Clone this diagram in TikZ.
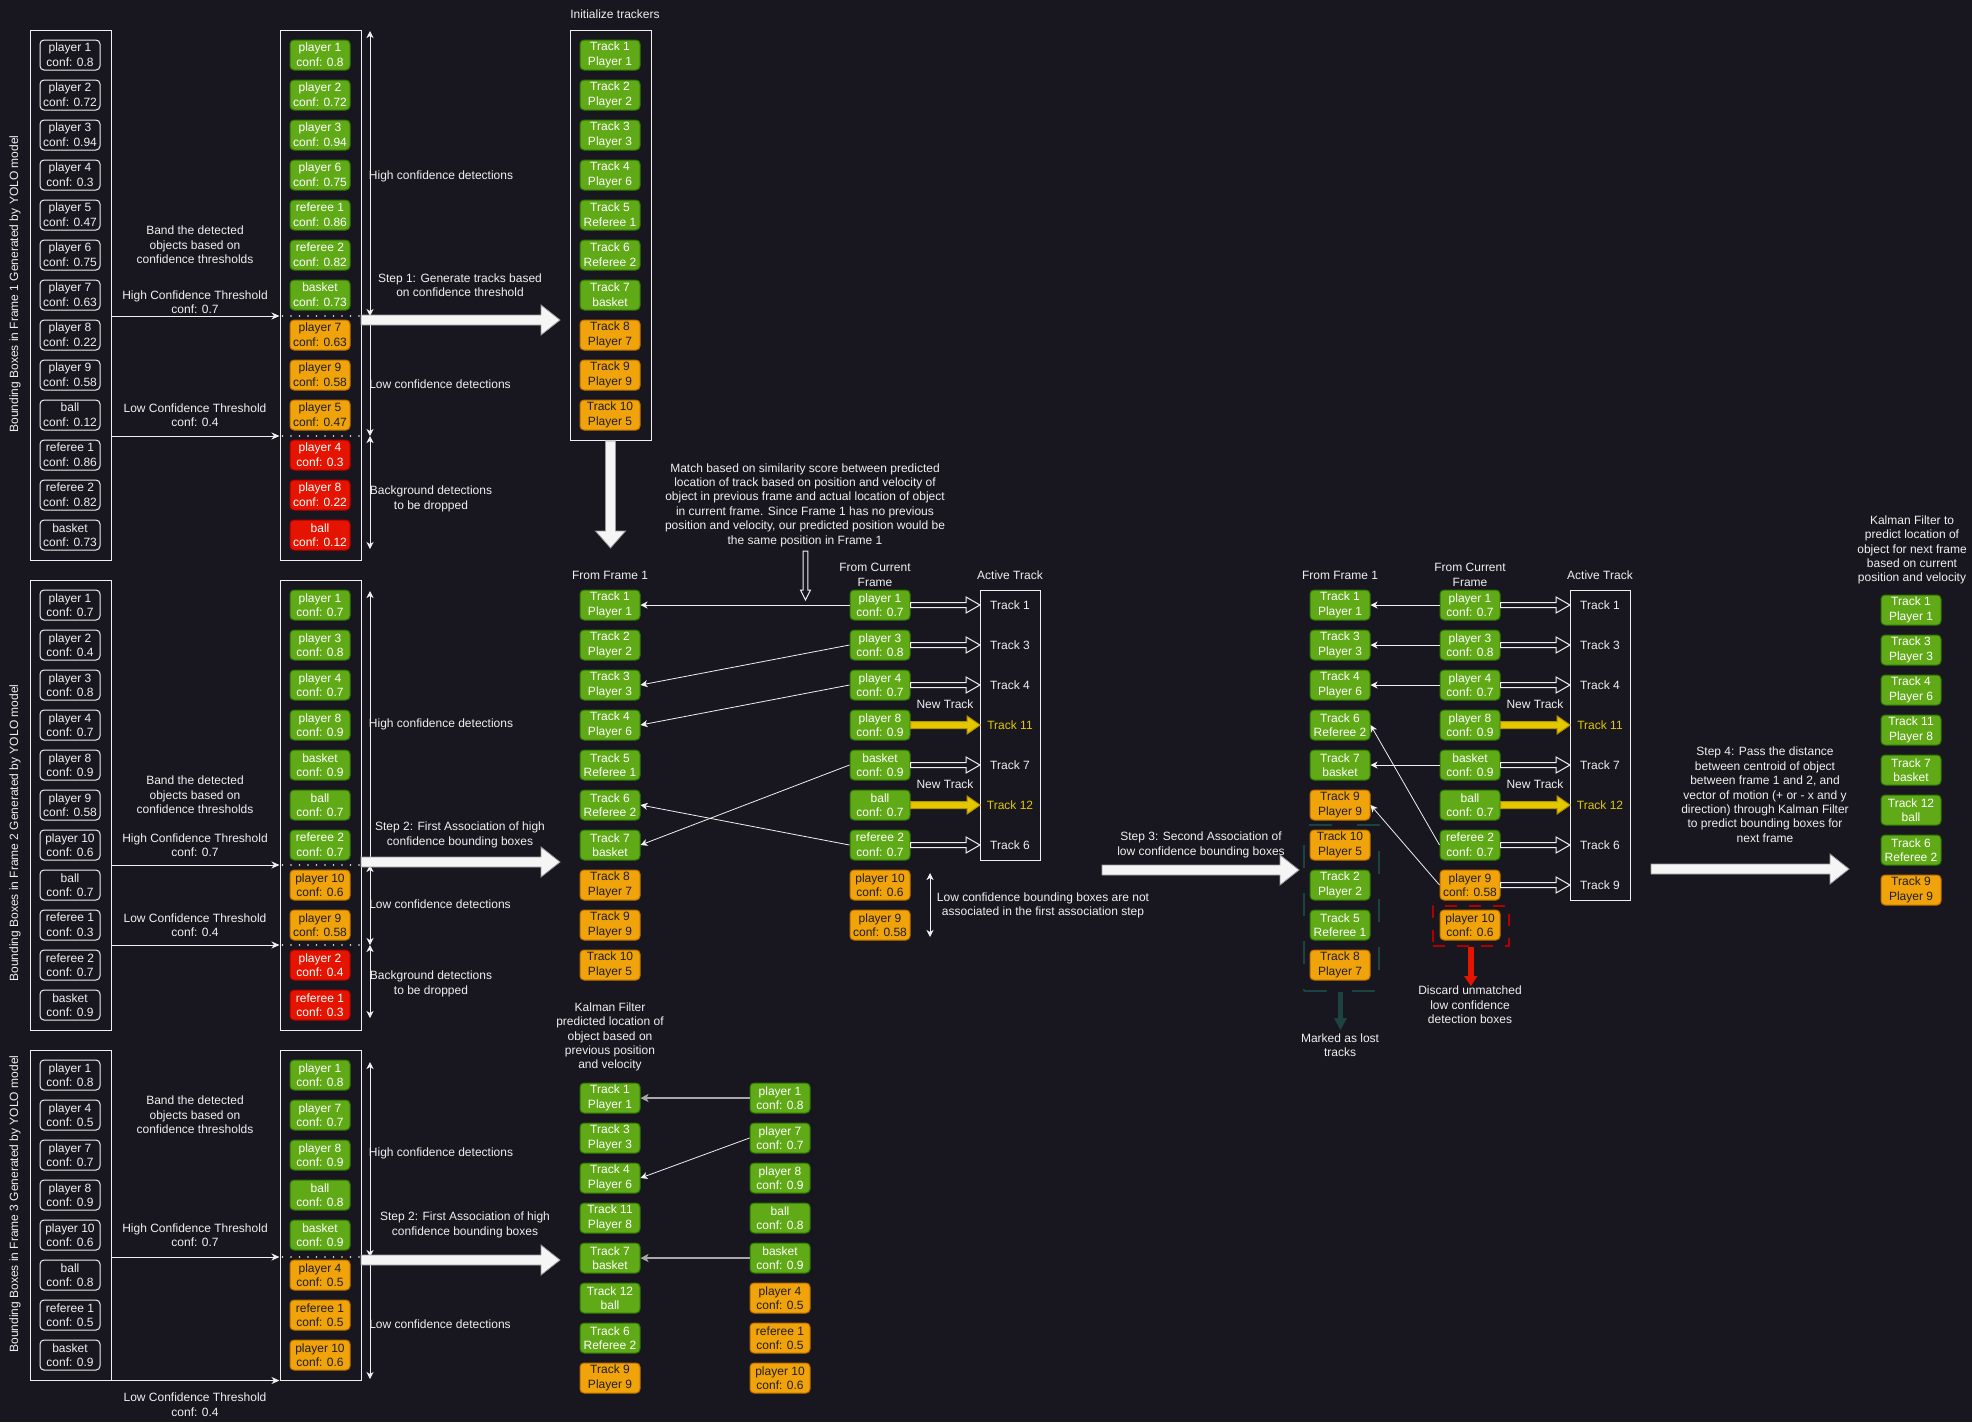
\documentclass[tikz,border=0pt]{standalone}
\usepackage{fontspec}
\setmainfont{Liberation Sans}
\usetikzlibrary{arrows.meta}
\definecolor{bg}{HTML}{18171F}
\definecolor{fg}{HTML}{F0F0F0}
\definecolor{gfill}{HTML}{60A917}
\definecolor{gline}{HTML}{2D7600}
\definecolor{ofill}{HTML}{F0A30A}
\definecolor{oline}{HTML}{BD7000}
\definecolor{otext}{HTML}{1E1E1E}
\definecolor{rfill}{HTML}{E51400}
\definecolor{rline}{HTML}{B20000}
\definecolor{yfill}{HTML}{E3C800}
\definecolor{yline}{HTML}{B09500}
\definecolor{lostc}{HTML}{1D4340}
\definecolor{bigfill}{HTML}{F5F5F5}
\definecolor{bigline}{HTML}{9A9A9A}
\definecolor{grayln}{HTML}{A8A8A8}
\newcommand{\FatH}[3]{\path[fatarr] (#1,{#3-5}) -- ({#2-19},{#3-5}) -- ({#2-19},{#3-15}) -- (#2,#3) -- ({#2-19},{#3+15}) -- ({#2-19},{#3+5}) -- (#1,{#3+5}) -- cycle;}
\newcommand{\FatV}[3]{\path[fatarr] ({#1-5},#2) -- ({#1-5},{#3-17}) -- ({#1-15},{#3-17}) -- (#1,#3) -- ({#1+15},{#3-17}) -- ({#1+5},{#3-17}) -- ({#1+5},#2) -- cycle;}
\newcommand{\HollowH}[3]{\path[hollarr] (#1,{#3-2.5}) -- ({#2-14},{#3-2.5}) -- ({#2-14},{#3-8}) -- (#2,#3) -- ({#2-14},{#3+8}) -- ({#2-14},{#3+2.5}) -- (#1,{#3+2.5}) -- cycle;}
\newcommand{\YelH}[3]{\path[yarrow] (#1,{#3-3.5}) -- ({#2-13},{#3-3.5}) -- ({#2-13},{#3-9}) -- (#2,#3) -- ({#2-13},{#3+9}) -- ({#2-13},{#3+3.5}) -- (#1,{#3+3.5}) -- cycle;}
\begin{document}
\begin{tikzpicture}[x=1pt,y=-1pt,
 boxbase/.style={minimum width=60pt, minimum height=30pt, inner sep=0pt, rounded corners=4pt, align=center, font=\fontsize{12}{14.6}\selectfont, line width=1pt},
 wb/.style={boxbase, draw=fg, text=fg},
 gb/.style={boxbase, fill=gfill, draw=gline, text=white},
 ob/.style={boxbase, fill=ofill, draw=oline, text=otext},
 rb/.style={boxbase, fill=rfill, draw=rline, text=white},
 cont/.style={draw=fg, line width=1pt, inner sep=0pt},
 lbl/.style={text=fg, align=center, font=\fontsize{12}{14.4}\selectfont, inner sep=0pt},
 ylbl/.style={lbl, text=yfill},
 thr/.style={draw=fg, line width=1pt, -{Stealth[length=8pt,width=7pt,inset=2.5pt]}},
 dotline/.style={draw=fg, line width=1.8pt, line cap=round, dash pattern=on 0pt off 8.5pt},
 spanarr/.style={draw=fg, line width=1pt, {Stealth[length=7pt,width=7pt,inset=2pt]}-{Stealth[length=7pt,width=7pt,inset=2pt]}},
 assoc/.style={draw=fg, line width=0.8pt, -{Stealth[length=7pt,width=7pt,inset=2pt]}},
 assocg/.style={draw=grayln, line width=1.8pt, -{Stealth[length=8pt,width=8pt,inset=2pt]}},
 fatarr/.style={fill=bigfill, draw=bigline, line width=0.8pt},
 hollarr/.style={draw=fg, line width=1pt, fill=bg},
 yarrow/.style={fill=yfill, draw=yline, line width=1pt}]
\useasboundingbox (0,0) rectangle (1972,1422);
\fill[bg] (0,0) rectangle (1972,1422);

% ================= FRAME 1 =================
\node[cont, minimum width=81pt, minimum height=530pt] (L1) at (70.5,295) {};
\node[cont, minimum width=81pt, minimum height=530pt] (G1) at (320.5,295) {};
\node[cont, minimum width=81pt, minimum height=410pt] (T1) at (610.5,235) {};
\node[lbl, rotate=90] (rot1) at (15,284) {Bounding Boxes in Frame 1 Generated by YOLO model};
\foreach \t [count=\i from 0] in {{player 1\\conf: 0.8},{player 2\\conf: 0.72},{player 3\\conf: 0.94},{player 4\\conf: 0.3},{player 5\\conf: 0.47},{player 6\\conf: 0.75},{player 7\\conf: 0.63},{player 8\\conf: 0.22},{player 9\\conf: 0.58},{ball\\conf: 0.12},{referee 1\\conf: 0.86},{referee 2\\conf: 0.82},{basket\\conf: 0.73}}
  \node[wb] (a1-\i) at (70,{55+40*\i}) {\t};
\foreach \t [count=\i from 0] in {{player 1\\conf: 0.8},{player 2\\conf: 0.72},{player 3\\conf: 0.94},{player 6\\conf: 0.75},{referee 1\\conf: 0.86},{referee 2\\conf: 0.82},{basket\\conf: 0.73}}
  \node[gb] (b1-\i) at (320,{55+40*\i}) {\t};
\foreach \t [count=\i from 7] in {{player 7\\conf: 0.63},{player 9\\conf: 0.58},{player 5\\conf: 0.47}}
  \node[ob] (b1-\i) at (320,{55+40*\i}) {\t};
\foreach \t [count=\i from 10] in {{player 4\\conf: 0.3},{player 8\\conf: 0.22},{ball\\conf: 0.12}}
  \node[rb] (b1-\i) at (320,{55+40*\i}) {\t};
\foreach \t [count=\i from 0] in {{Track 1\\Player 1},{Track 2\\Player 2},{Track 3\\Player 3},{Track 4\\Player 6},{Track 5\\Referee 1},{Track 6\\Referee 2},{Track 7\\basket}}
  \node[gb] (tr-\i) at (610,{55+40*\i}) {\t};
\foreach \t [count=\i from 7] in {{Track 8\\Player 7},{Track 9\\Player 9},{Track 10\\Player 5}}
  \node[ob] (tr-\i) at (610,{55+40*\i}) {\t};

\coordinate (h1) at (0,316);
\coordinate (l1) at (0,436);
\draw[thr] (L1.east |- h1) -- (G1.west |- h1);
\draw[thr] (L1.east |- l1) -- (G1.west |- l1);
\draw[dotline] (G1.west |- h1) ++(3,0) -- (G1.east |- h1);
\draw[dotline] (G1.west |- l1) ++(3,0) -- (G1.east |- l1);
\draw[spanarr] (370,31) -- (370,316);
\draw[spanarr] (370,316) -- (370,436);
\draw[spanarr] (370,436) -- (370,549);

\node[lbl] (band1) at (195,245) {Band the detected\\objects based on\\confidence thresholds};
\node[lbl] (hct1) at (195,302) {High Confidence Threshold\\conf: 0.7};
\node[lbl] (lct1) at (195,415) {Low Confidence Threshold\\conf: 0.4};
\node[lbl] (hcd1) at (441,176) {High confidence detections};
\node[lbl] (lcd1) at (440,384) {Low confidence detections};
\node[lbl] (bgd1) at (431,499) {Background detections\\to be dropped};
\node[lbl] (step1) at (460,285) {Step 1: Generate tracks based\\on confidence threshold};
\node[lbl] (init) at (615,14.5) {Initialize trackers};
\FatH{361}{560}{320}
\FatV{610.5}{441}{548}

% ================= FRAME 2 =================
\node[cont, minimum width=81pt, minimum height=450pt] (L2) at (70.5,805) {};
\node[cont, minimum width=81pt, minimum height=450pt] (G2) at (320.5,805) {};
\node[lbl, rotate=90] (rot2) at (15,833) {Bounding Boxes in Frame 2 Generated by YOLO model};
\foreach \t [count=\i from 0] in {{player 1\\conf: 0.7},{player 2\\conf: 0.4},{player 3\\conf: 0.8},{player 4\\conf: 0.7},{player 8\\conf: 0.9},{player 9\\conf: 0.58},{player 10\\conf: 0.6},{ball\\conf: 0.7},{referee 1\\conf: 0.3},{referee 2\\conf: 0.7},{basket\\conf: 0.9}}
  \node[wb] (a2-\i) at (70,{605+40*\i}) {\t};
\foreach \t [count=\i from 0] in {{player 1\\conf: 0.7},{player 3\\conf: 0.8},{player 4\\conf: 0.7},{player 8\\conf: 0.9},{basket\\conf: 0.9},{ball\\conf: 0.7},{referee 2\\conf: 0.7}}
  \node[gb] (b2-\i) at (320,{605+40*\i}) {\t};
\foreach \t [count=\i from 7] in {{player 10\\conf: 0.6},{player 9\\conf: 0.58}}
  \node[ob] (b2-\i) at (320,{605+40*\i}) {\t};
\foreach \t [count=\i from 9] in {{player 2\\conf: 0.4},{referee 1\\conf: 0.3}}
  \node[rb] (b2-\i) at (320,{605+40*\i}) {\t};

\coordinate (h2) at (0,865);
\coordinate (l2) at (0,945);
\draw[thr] (L2.east |- h2) -- (G2.west |- h2);
\draw[thr] (L2.east |- l2) -- (G2.west |- l2);
\draw[dotline] (G2.west |- h2) ++(3,0) -- (G2.east |- h2);
\draw[dotline] (G2.west |- l2) ++(3,0) -- (G2.east |- l2);
\draw[spanarr] (370,591) -- (370,865);
\draw[spanarr] (370,865) -- (370,945);
\draw[spanarr] (370,945) -- (370,1018);

\node[lbl] (band2) at (195,795) {Band the detected\\objects based on\\confidence thresholds};
\node[lbl] (hct2) at (195,845) {High Confidence Threshold\\conf: 0.7};
\node[lbl] (lct2) at (195,925) {Low Confidence Threshold\\conf: 0.4};
\node[lbl] (hcd2) at (441,724.5) {High confidence detections};
\node[lbl] (lcd2) at (440,904) {Low confidence detections};
\node[lbl] (bgd2) at (431,984) {Background detections\\to be dropped};
\node[lbl] (step2) at (460,835) {Step 2: First Association of high\\confidence bounding boxes};
\FatH{361}{560}{862}

% frame 2 association
\node[lbl] (ff2) at (610,575) {From Frame 1};
\node[lbl] (fc2) at (875,575) {From Current\\Frame};
\node[lbl] (at2) at (1010,575) {Active Track};
\foreach \t [count=\i from 0] in {{Track 1\\Player 1},{Track 2\\Player 2},{Track 3\\Player 3},{Track 4\\Player 6},{Track 5\\Referee 1},{Track 6\\Referee 2},{Track 7\\basket}}
  \node[gb] (t2-\i) at (610,{605+40*\i}) {\t};
\foreach \t [count=\i from 7] in {{Track 8\\Player 7},{Track 9\\Player 9},{Track 10\\Player 5}}
  \node[ob] (t2-\i) at (610,{605+40*\i}) {\t};
\foreach \t [count=\i from 0] in {{player 1\\conf: 0.7},{player 3\\conf: 0.8},{player 4\\conf: 0.7},{player 8\\conf: 0.9},{basket\\conf: 0.9},{ball\\conf: 0.7},{referee 2\\conf: 0.7}}
  \node[gb] (c2-\i) at (880,{605+40*\i}) {\t};
\foreach \t [count=\i from 7] in {{player 10\\conf: 0.6},{player 9\\conf: 0.58}}
  \node[ob] (c2-\i) at (880,{605+40*\i}) {\t};
\node[cont, minimum width=60pt, minimum height=270pt] (A2) at (1010,725) {};
\node[lbl] (x2-0) at (1010,605) {Track 1};
\node[lbl] (x2-1) at (1010,645) {Track 3};
\node[lbl] (x2-2) at (1010,685) {Track 4};
\node[ylbl] (x2-3) at (1010,725) {Track 11};
\node[lbl] (x2-4) at (1010,765) {Track 7};
\node[ylbl] (x2-5) at (1010,805) {Track 12};
\node[lbl] (x2-6) at (1010,845) {Track 6};
\foreach \i in {0,1,2,4,6} { \HollowH{910.5}{980}{605+40*\i} }
\YelH{910.5}{980}{725}
\YelH{910.5}{980}{805}
\node[lbl] (nt2a) at (945,704) {New Track};
\node[lbl] (nt2b) at (945,784) {New Track};
\draw[assoc] (c2-0.west) -- (t2-0.east);
\draw[assoc] (c2-1.west) -- (t2-2.east);
\draw[assoc] (c2-2.west) -- (t2-3.east);
\draw[assoc] (c2-4.west) -- (t2-6.east);
\draw[assoc] (c2-6.west) -- (t2-5.east);
\node[lbl] (match) at (805,505) {Match based on similarity score between predicted\\location of track based on position and velocity of\\object in previous frame and actual location of object\\in current frame. Since Frame 1 has no previous\\position and velocity, our predicted position would be\\the same position in Frame 1};
\path[hollarr] (803.2,551) -- (803.2,590) -- (800.5,590) -- (805.5,600) -- (810.5,590) -- (807.8,590) -- (807.8,551) -- cycle;
\draw[spanarr] (930,873) -- (930,937);
\node[lbl] (lcnote) at (1043,905.5) {Low confidence bounding boxes are not\\associated in the first association step};

% ================= FRAME 3 =================
\node[cont, minimum width=81pt, minimum height=330pt] (L3) at (70.5,1215) {};
\node[cont, minimum width=81pt, minimum height=330pt] (G3) at (320.5,1215) {};
\node[lbl, rotate=90] (rot3) at (15,1204) {Bounding Boxes in Frame 3 Generated by YOLO model};
\foreach \t [count=\i from 0] in {{player 1\\conf: 0.8},{player 4\\conf: 0.5},{player 7\\conf: 0.7},{player 8\\conf: 0.9},{player 10\\conf: 0.6},{ball\\conf: 0.8},{referee 1\\conf: 0.5},{basket\\conf: 0.9}}
  \node[wb] (a3-\i) at (70,{1075+40*\i}) {\t};
\foreach \t [count=\i from 0] in {{player 1\\conf: 0.8},{player 7\\conf: 0.7},{player 8\\conf: 0.9},{ball\\conf: 0.8},{basket\\conf: 0.9}}
  \node[gb] (b3-\i) at (320,{1075+40*\i}) {\t};
\foreach \t [count=\i from 5] in {{player 4\\conf: 0.5},{referee 1\\conf: 0.5},{player 10\\conf: 0.6}}
  \node[ob] (b3-\i) at (320,{1075+40*\i}) {\t};
\coordinate (h3) at (0,1257);
\draw[thr] (L3.east |- h3) -- (G3.west |- h3);
\draw[thr] (L3.south east) -- (G3.south west);
\draw[dotline] (G3.west |- h3) ++(3,0) -- (G3.east |- h3);
\draw[spanarr] (370,1062) -- (370,1257);
\draw[spanarr] (370,1257) -- (370,1379);
\node[lbl] (band3) at (195,1115) {Band the detected\\objects based on\\confidence thresholds};
\node[lbl] (hct3) at (195,1235) {High Confidence Threshold\\conf: 0.7};
\node[lbl] (lct3) at (195,1404.5) {Low Confidence Threshold\\conf: 0.4};
\node[lbl] (hcd3) at (441,1153) {High confidence detections};
\node[lbl] (lcd3) at (440,1324) {Low confidence detections};
\node[lbl] (step3b) at (465,1225) {Step 2: First Association of high\\confidence bounding boxes};
\FatH{361}{560}{1260}

\node[lbl] (kal1) at (610,1037) {Kalman Filter\\predicted location of\\object based on\\previous position\\and velocity};
\foreach \t [count=\i from 0] in {{Track 1\\Player 1},{Track 3\\Player 3},{Track 4\\Player 6},{Track 11\\Player 8},{Track 7\\basket},{Track 12\\ball},{Track 6\\Referee 2}}
  \node[gb] (k-\i) at (610,{1098+40*\i}) {\t};
\node[ob] (k-7) at (610,1378) {Track 9\\Player 9};
\foreach \t [count=\i from 0] in {{player 1\\conf: 0.8},{player 7\\conf: 0.7},{player 8\\conf: 0.9},{ball\\conf: 0.8},{basket\\conf: 0.9}}
  \node[gb] (r-\i) at (780,{1098+40*\i}) {\t};
\foreach \t [count=\i from 5] in {{player 4\\conf: 0.5},{referee 1\\conf: 0.5},{player 10\\conf: 0.6}}
  \node[ob] (r-\i) at (780,{1098+40*\i}) {\t};
\draw[assocg] (r-0.west) -- (k-0.east);
\draw[assoc] (r-1.west) -- (k-2.east);
\draw[assocg] (r-4.west) -- (k-4.east);

% ================= STEP 3 =================
\node[lbl] (step3) at (1201,845) {Step 3: Second Association of\\low confidence bounding boxes};
\FatH{1102}{1299}{870}
\node[lbl] (ff3) at (1340,575) {From Frame 1};
\node[lbl] (fc3) at (1470,575) {From Current\\Frame};
\node[lbl] (at3) at (1600,575) {Active Track};
\node[gb] (t3-0) at (1340,605) {Track 1\\Player 1};
\node[gb] (t3-1) at (1340,645) {Track 3\\Player 3};
\node[gb] (t3-2) at (1340,685) {Track 4\\Player 6};
\node[gb] (t3-3) at (1340,725) {Track 6\\Referee 2};
\node[gb] (t3-4) at (1340,765) {Track 7\\basket};
\node[ob] (t3-5) at (1340,805) {Track 9\\Player 9};
\node[ob] (t3-6) at (1340,845) {Track 10\\Player 5};
\node[gb] (t3-7) at (1340,885) {Track 2\\Player 2};
\node[gb] (t3-8) at (1340,925) {Track 5\\Referee 1};
\node[ob] (t3-9) at (1340,965) {Track 8\\Player 7};
\foreach \t [count=\i from 0] in {{player 1\\conf: 0.7},{player 3\\conf: 0.8},{player 4\\conf: 0.7},{player 8\\conf: 0.9},{basket\\conf: 0.9},{ball\\conf: 0.7},{referee 2\\conf: 0.7}}
  \node[gb] (c3-\i) at (1470,{605+40*\i}) {\t};
\node[ob] (c3-7) at (1470,885) {player 9\\conf: 0.58};
\node[ob] (c3-8) at (1470,925) {player 10\\conf: 0.6};
\node[cont, minimum width=60pt, minimum height=310pt] (A3) at (1600,745) {};
\node[lbl] (x3-0) at (1600,605) {Track 1};
\node[lbl] (x3-1) at (1600,645) {Track 3};
\node[lbl] (x3-2) at (1600,685) {Track 4};
\node[ylbl] (x3-3) at (1600,725) {Track 11};
\node[lbl] (x3-4) at (1600,765) {Track 7};
\node[ylbl] (x3-5) at (1600,805) {Track 12};
\node[lbl] (x3-6) at (1600,845) {Track 6};
\node[lbl] (x3-7) at (1600,885) {Track 9};
\foreach \i in {0,1,2,4,6,7} { \HollowH{1500.5}{1570}{605+40*\i} }
\YelH{1500.5}{1570}{725}
\YelH{1500.5}{1570}{805}
\node[lbl] (nt3a) at (1535,704) {New Track};
\node[lbl] (nt3b) at (1535,784) {New Track};
\draw[assoc] (c3-0.west) -- (t3-0.east);
\draw[assoc] (c3-1.west) -- (t3-1.east);
\draw[assoc] (c3-2.west) -- (t3-2.east);
\draw[assoc] (c3-4.west) -- (t3-4.east);
\draw[assoc] (c3-6.west) -- (t3-3.east);
\draw[assoc] (c3-7.west) -- (t3-5.east);

\node[draw=lostc, line width=2pt, dash pattern=on 23pt off 25pt, minimum width=75pt, minimum height=166pt, inner sep=0pt] (lost) at (1341.5,908) {};
\path[fill=lostc] (1338.3,992) rectangle (1342.7,1019);
\path[fill=lostc] (1334,1018) -- (1347,1018) -- (1340.5,1030) -- cycle;
\node[lbl] (lostl) at (1340,1045) {Marked as lost\\tracks};
\node[draw=rline, line width=2pt, dash pattern=on 12pt off 12pt, minimum width=76pt, minimum height=40pt, inner sep=0pt] (disc) at (1470.5,925.5) {};
\path[fill=rfill] (1467.8,946.5) rectangle (1474,977);
\path[fill=rfill] (1464,976) -- (1477.5,976) -- (1470.9,986) -- cycle;
\node[lbl] (discl) at (1470,1005) {Discard unmatched\\low confidence\\detection boxes};

% ================= STEP 4 =================
\node[lbl] (step4) at (1765,794.7) {Step 4: Pass the distance\\between centroid of object\\between frame 1 and 2, and\\vector of motion (+ or - x and y\\direction) through Kalman Filter\\to predict bounding boxes for\\next frame};
\FatH{1651}{1849}{869}
\node[lbl] (kal2) at (1912,550) {Kalman Filter to\\predict location of\\object for next frame\\based on current\\position and velocity};
\foreach \t [count=\i from 0] in {{Track 1\\Player 1},{Track 3\\Player 3},{Track 4\\Player 6},{Track 11\\Player 8},{Track 7\\basket},{Track 12\\ball},{Track 6\\Referee 2}}
  \node[gb] (p-\i) at (1911,{610+40*\i}) {\t};
\node[ob] (p-7) at (1911,890) {Track 9\\Player 9};
\end{tikzpicture}
\end{document}
